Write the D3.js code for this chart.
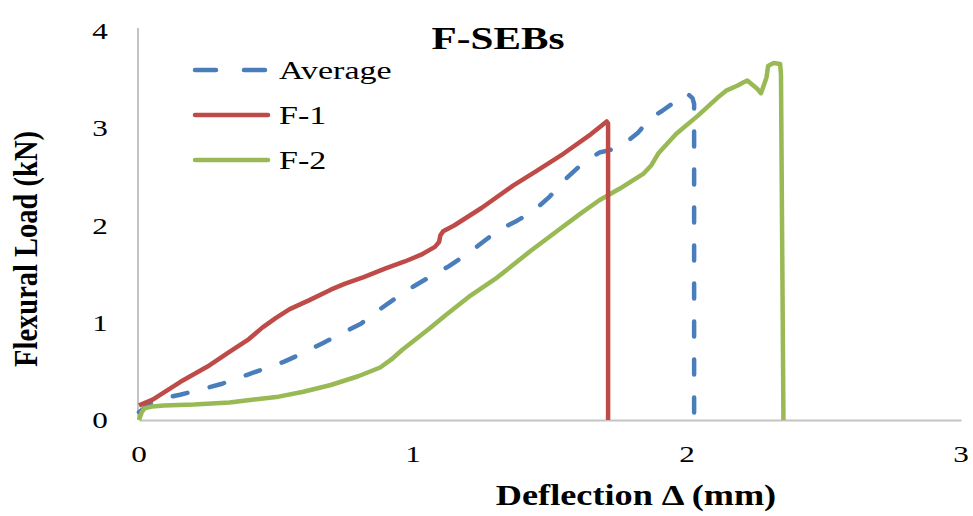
<!DOCTYPE html>
<html>
<head>
<meta charset="utf-8">
<script src="https://cdn.jsdelivr.net/npm/d3@7"></script>
<style>
  html, body { margin: 0; padding: 0; background: #fff; }
  svg { display: block; }
  text { font-family: "Liberation Serif", "Times New Roman", serif; fill: #000; }
</style>
</head>
<body>
<svg id="chart" width="973" height="516"></svg>
<script>
// Load–deflection curves, flexural test of F-SEBs specimens
const chartTitle = "F-SEBs";
const xTicks = [0, 1, 2, 3];
const yTicks = [0, 1, 2, 3, 4];
const seriesNames = ["Average", "F-1", "F-2"];

// Deflection (mm), load (kN)
const avgDeflection = [0, 0.04, 0.10, 0.15, 0.22, 0.30, 0.37, 0.45, 0.53, 0.60, 0.67, 0.74, 0.81, 0.875, 0.94, 1.00, 1.06, 1.13, 1.20, 1.26, 1.31, 1.38, 1.44, 1.50, 1.55, 1.60, 1.646, 1.68, 1.71, 1.75, 1.78, 1.82, 1.865, 1.91, 1.97, 2.00, 2.02, 2.026, 2.026];
const avgLoad       = [0.08, 0.17, 0.23, 0.26, 0.31, 0.37, 0.44, 0.52, 0.60, 0.69, 0.79, 0.89, 0.99, 1.13, 1.26, 1.37, 1.47, 1.58, 1.71, 1.84, 1.95, 2.05, 2.15, 2.30, 2.46, 2.59, 2.69, 2.75, 2.77, 2.80, 2.86, 2.95, 3.10, 3.18, 3.30, 3.36, 3.31, 3.25, 0];

const f1Deflection = [0, 0.05, 0.15, 0.25, 0.33, 0.40, 0.45, 0.50, 0.55, 0.62, 0.70, 0.75, 0.82, 0.90, 0.97, 1.03, 1.08, 1.095, 1.10, 1.11, 1.15, 1.25, 1.365, 1.45, 1.55, 1.65, 1.707, 1.712, 1.712];
const f1Load       = [0.15, 0.21, 0.39, 0.55, 0.70, 0.83, 0.95, 1.05, 1.14, 1.23, 1.34, 1.40, 1.47, 1.56, 1.63, 1.70, 1.78, 1.83, 1.90, 1.94, 2.00, 2.18, 2.41, 2.56, 2.74, 2.94, 3.07, 3.05, 0];

const f2Deflection = [0, 0.01, 0.02, 0.05, 0.09, 0.20, 0.33, 0.42, 0.51, 0.60, 0.70, 0.80, 0.88, 0.92, 0.96, 1.01, 1.06, 1.12, 1.21, 1.30, 1.43, 1.52, 1.61, 1.68, 1.755, 1.84, 1.87, 1.895, 1.96, 2.04, 2.11, 2.145, 2.185, 2.205, 2.22, 2.255, 2.27, 2.29, 2.296, 2.315, 2.34, 2.343, 2.352];
const f2Load       = [0, 0.08, 0.12, 0.14, 0.15, 0.16, 0.18, 0.21, 0.24, 0.29, 0.36, 0.45, 0.54, 0.62, 0.72, 0.83, 0.94, 1.08, 1.28, 1.45, 1.74, 1.93, 2.12, 2.26, 2.38, 2.53, 2.62, 2.74, 2.94, 3.13, 3.31, 3.39, 3.44, 3.47, 3.49, 3.41, 3.36, 3.52, 3.64, 3.67, 3.66, 3.55, 0];

const colors = { "Average": "#4A7EBB", "F-1": "#BE4B48", "F-2": "#98B954" };

const svg = d3.select("#chart");
const x = d3.scaleLinear().domain([0, 3]).range([139, 961]);
const y = d3.scaleLinear().domain([0, 4]).range([420, 31]);

// Text helper: serif glyphs widened horizontally
function label(g, str, px, py, opts) {
  const t = g.append("text")
    .attr("transform", `translate(${px},${py}) scale(${opts.sx || 1},1)` + (opts.rotate ? ` rotate(${opts.rotate})` : ""))
    .attr("text-anchor", opts.anchor || "start")
    .style("font-size", opts.size + "px")
    .style("font-weight", opts.bold ? "bold" : "normal")
    .text(str);
  return t;
}

// Axes lines
const axisColor = "#C4C4C4";
svg.append("g").attr("transform", `translate(0,${y(0)})`)
  .call(d3.axisBottom(x).tickValues(xTicks).tickSize(0).tickFormat(""))
  .call(g => g.select(".domain").attr("stroke", axisColor).attr("stroke-width", 2));
svg.append("line")
  .attr("x1", x(0) - 1).attr("x2", x(0) - 1)
  .attr("y1", y(4) - 3).attr("y2", y(0))
  .attr("stroke", axisColor).attr("stroke-width", 2);

// Tick labels
const tickG = svg.append("g");
yTicks.forEach(v => label(tickG, d3.format("d")(v), 100, y(v) + 8, { size: 24, sx: 1.3, anchor: "middle" }));
xTicks.forEach(v => label(tickG, d3.format("d")(v), x(v), 462, { size: 24, sx: 1.3, anchor: "middle" }));

// Axis titles and chart title
label(svg, "Deflection Δ (mm)", 636, 505, { size: 29, sx: 1.25, anchor: "middle", bold: true });
label(svg, "Flexural Load (kN)", 37, 249, { size: 28.5, sx: 1.16, anchor: "middle", bold: true, rotate: -90 });
label(svg, chartTitle, 498, 49, { size: 31, sx: 1.33, anchor: "middle", bold: true });

// Curves
const line = d3.line().x(d => x(d[0])).y(d => y(d[1]));
const data = {
  "Average": d3.zip(avgDeflection, avgLoad),
  "F-1": d3.zip(f1Deflection, f1Load),
  "F-2": d3.zip(f2Deflection, f2Load)
};
const drawOrder = ["Average", "F-2", "F-1"];
const plot = svg.append("g");
drawOrder.forEach(name => {
  plot.append("path")
    .datum(data[name])
    .attr("d", line)
    .attr("fill", "none")
    .attr("stroke", colors[name])
    .attr("stroke-width", 4.5)
    .attr("stroke-linejoin", "round")
    .attr("stroke-linecap", name === "Average" ? "round" : "butt")
    .attr("stroke-dasharray", name === "Average" ? "15,23" : null);
});

// Legend
const legend = svg.append("g");
const legendY = [70, 115, 160];
seriesNames.forEach((name, i) => {
  legend.append("line")
    .attr("x1", 195).attr("x2", 268)
    .attr("y1", legendY[i]).attr("y2", legendY[i])
    .attr("stroke", colors[name]).attr("stroke-width", 4.5)
    .attr("stroke-linecap", "round")
    .attr("stroke-dasharray", name === "Average" ? "21,28" : null);
  label(legend, name, 279, legendY[i] + 8.5, { size: 25, sx: 1.36 });
});
</script>
</body>
</html>
